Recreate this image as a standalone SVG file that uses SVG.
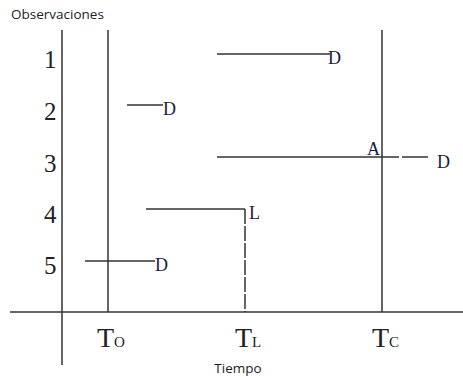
<svg xmlns="http://www.w3.org/2000/svg" width="463" height="377" viewBox="0 0 463 377">
<style>
.ln{stroke:#333;stroke-width:1.5;fill:none}
.num{font-family:"Liberation Serif",serif;font-size:25px;fill:#222}
.lab{font-family:"Liberation Serif",serif;font-size:18px;fill:#1a1a40}
.t{font-family:"Liberation Serif",serif;font-size:28px;fill:#222}
.sub{font-family:"Liberation Serif",serif;font-size:15px;fill:#222}
.sans{font-family:"Open Sans","Liberation Sans",sans-serif;font-size:13.5px;fill:#222}
</style>
<rect width="463" height="377" fill="#fff"/>
<g id="axes">
<line class="ln" x1="62" y1="30" x2="62" y2="365"/>
<line class="ln" x1="10" y1="312" x2="463" y2="312"/>
<text class="sans" x="11" y="19">Observaciones</text>
<text class="sans" x="238" y="373" text-anchor="middle">Tiempo</text>
</g>
<g id="numbers">
<text class="num" x="44" y="68">1</text>
<text class="num" x="44" y="120">2</text>
<text class="num" x="44" y="172">3</text>
<text class="num" x="44" y="223">4</text>
<text class="num" x="44" y="274">5</text>
</g>
<g id="T0">
<line class="ln" x1="108" y1="30" x2="108" y2="312"/>
<text class="t" x="97" y="347">T</text>
<text class="sub" x="114" y="347">O</text>
</g>
<g id="TL">
<line class="ln" x1="245" y1="209" x2="245" y2="312" stroke-dasharray="15 2"/>
<text class="t" x="235" y="347">T</text>
<text class="sub" x="252" y="347">L</text>
</g>
<g id="TC">
<line class="ln" x1="382" y1="30" x2="382" y2="312"/>
<text class="t" x="372" y="347">T</text>
<text class="sub" x="389" y="347">C</text>
</g>
<g id="connectors">
<line class="ln" x1="217" y1="54" x2="330" y2="54"/>
<line class="ln" x1="127" y1="105" x2="163" y2="105"/>
<line class="ln" x1="217" y1="157" x2="399" y2="157"/>
<line class="ln" x1="402" y1="157" x2="428" y2="157"/>
<line class="ln" x1="146" y1="209" x2="245" y2="209"/>
<line class="ln" x1="85" y1="261" x2="155" y2="261"/>
</g>
<g id="labels">
<text class="lab" x="328" y="64">D</text>
<text class="lab" x="163" y="115">D</text>
<text class="lab" x="367" y="155">A</text>
<text class="lab" x="437" y="168">D</text>
<text class="lab" x="249" y="219">L</text>
<text class="lab" x="155" y="271">D</text>
</g>
</svg>
